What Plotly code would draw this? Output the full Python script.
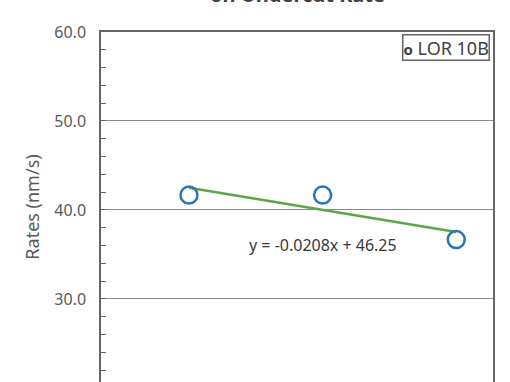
import plotly.graph_objects as go

# Data
x_vals = [180, 300, 420]
y_vals = [41.67, 41.67, 36.67]
series_name = "LOR 10B"
trend_slope = -0.0208
trend_intercept = 46.25
y_tick_vals = [20, 30, 40, 50, 60]
y_tick_text = ["20.0", "30.0", "40.0", "50.0", "60.0"]
title_text = "on Undercut Rate"
y_title = "Rates (nm/s)"

FONT = "Noto Sans"
GRAY = "#595959"

trend_x = [min(x_vals), max(x_vals)]
trend_y = [trend_slope * v + trend_intercept for v in trend_x]

fig = go.Figure()
fig.add_trace(go.Scatter(
    x=trend_x, y=trend_y, mode="lines",
    line=dict(color="#5aa845", width=2.5), showlegend=False, hoverinfo="skip"))
fig.add_trace(go.Scatter(
    x=x_vals, y=y_vals, mode="markers", name=series_name,
    marker=dict(symbol="circle-open", size=17, color="#2b74b8", line=dict(width=2.5)),
    showlegend=False))

fig.add_annotation(
    x=300, y=36.1, xref="x", yref="y", text=f"y = {trend_slope:.4f}x + {trend_intercept:.2f}",
    showarrow=False, font=dict(family=FONT, size=16, color="#383838"))

fig.add_annotation(
    x=0.993, y=0.994, xref="paper", yref="paper", xanchor="right", yanchor="top",
    text="<span style='font-size:15px'><b>o</b></span> " + series_name, showarrow=False,
    font=dict(family=FONT, size=18, color="#404040"),
    bordercolor="#666666", borderwidth=1.5, borderpad=0, bgcolor="white")

fig.add_annotation(
    x=0.5, y=1.063, xref="paper", yref="paper", yanchor="bottom",
    text=f"<b>{title_text}</b>", showarrow=False,
    font=dict(family=FONT, size=20, color="#404040"))

# partially visible bottom tick label
fig.add_annotation(
    x=-0.036, y=-0.017, xref="paper", yref="paper", xanchor="right", yanchor="middle",
    text=y_tick_text[0], showarrow=False,
    font=dict(family=FONT, size=16, color=GRAY))

fig.update_layout(
    width=510, height=382,
    margin=dict(l=101, r=17, t=32, b=0),
    plot_bgcolor="white", paper_bgcolor="white",
    font=dict(family=FONT, color=GRAY),
    showlegend=False,
)
fig.update_xaxes(
    range=[101, 453], side="top", showline=True, linecolor="#666666", linewidth=1.5,
    showgrid=False, zeroline=False, showticklabels=False, ticks="")
fig.update_yaxes(
    range=[20.67, 60], tickvals=y_tick_vals, ticktext=y_tick_text,
    showline=True, mirror=True, linecolor="#666666", linewidth=1.5,
    showgrid=True, gridcolor="#8a8a8a", gridwidth=1, zeroline=False,
    ticks="inside", ticklen=5, tickcolor="#666666",
    minor=dict(dtick=2, ticks="inside", ticklen=5, tickcolor="#666666", showgrid=False),
    tickfont=dict(family=FONT, size=16, color=GRAY),
    ticklabelstandoff=10,
    title=dict(text=y_title, font=dict(family=FONT, size=18, color=GRAY), standoff=10))

fig.write_html("out.html")
